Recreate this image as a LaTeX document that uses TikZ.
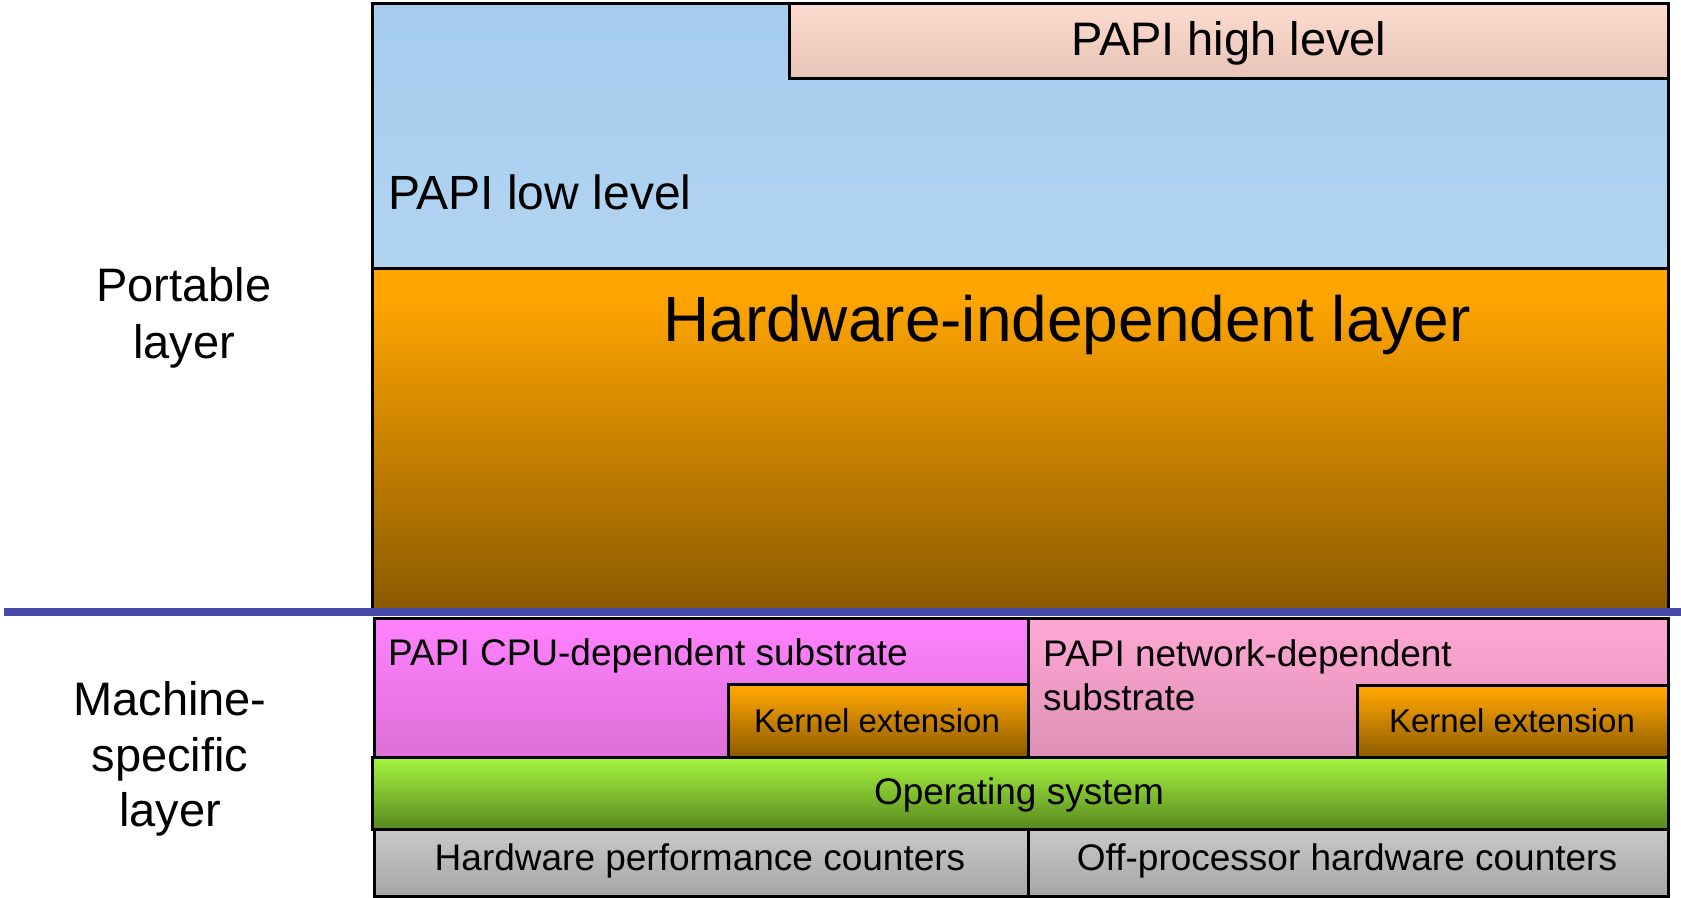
\documentclass[tikz,border=0pt]{standalone}
\usepackage{fontspec}
\setmainfont{Liberation Sans}
\definecolor{blueT}{RGB}{166,204,238}
\definecolor{blueB}{RGB}{177,212,241}
\definecolor{peachT}{RGB}{255,220,208}
\definecolor{peachB}{RGB}{230,195,182}
\definecolor{org}{RGB}{255,165,0}
\definecolor{brn}{RGB}{138,90,0}
\definecolor{magT}{RGB}{255,130,255}
\definecolor{magB}{RGB}{221,111,214}
\definecolor{pinkT}{RGB}{255,168,212}
\definecolor{pinkB}{RGB}{222,144,182}
\definecolor{grnT}{RGB}{166,245,64}
\definecolor{grnB}{RGB}{88,136,30}
\definecolor{grayT}{RGB}{200,200,200}
\definecolor{grayB}{RGB}{166,166,166}
\definecolor{sepline}{RGB}{72,72,168}
\pgfdeclareverticalshading{hwind}{100bp}{color(0bp)=(brn); color(25bp)=(brn); color(71bp)=(org); color(100bp)=(org)}
\pgfdeclareverticalshading{kern}{100bp}{color(0bp)=(brn); color(25bp)=(brn); color(72bp)=(org); color(100bp)=(org)}
\tikzset{
  layerbox/.style={draw=black, line width=2.5pt, rectangle, inner sep=0pt, anchor=north west},
  txt/.style={inner sep=0pt, font=\fontsize{37}{44}\selectfont},
  bigtxt/.style={inner sep=0pt, font=\fontsize{47}{56}\selectfont},
  hugetxt/.style={inner sep=0pt, font=\fontsize{64}{76}\selectfont},
  kerntxt/.style={inner sep=0pt, font=\fontsize{33}{40}\selectfont},
}
\begin{document}
\begin{tikzpicture}[x=1pt,y=-1pt]
\useasboundingbox (0,0) rectangle (1681,897);
% portable layer
\node[layerbox, top color=blueT, bottom color=blueB, minimum width=1296pt, minimum height=265pt] (low) at (371,2) {};
\node[layerbox, top color=peachT, bottom color=peachB, minimum width=879pt, minimum height=75pt] (high) at (788,2) {};
\node[bigtxt] (hightxt) at ([yshift=-3pt]high.center) {PAPI high level};
\node[font=\fontsize{48}{56}\selectfont, inner sep=0pt, anchor=base west] (lowtxt) at (388,209) {PAPI low level};
\node[layerbox, shade, shading=hwind, minimum width=1296pt, minimum height=342pt] (hw) at (371,267) {};
\node[hugetxt, anchor=base] (hwtxt) at (1067,341) {Hardware-independent layer};
% separator
\coordinate (sepL) at (4,612);
\coordinate (sepR) at (1681,612);
\draw[sepline, line width=8pt] (sepL) -- (sepR);
% machine specific
\node[layerbox, top color=magT, bottom color=magB, minimum width=654pt, minimum height=139pt] (cpu) at (373,617) {};
\node[layerbox, top color=pinkT, bottom color=pinkB, minimum width=640pt, minimum height=139pt] (net) at (1027,617) {};
\node[layerbox, shade, shading=kern, minimum width=300pt, minimum height=73pt] (k1) at (727,683) {};
\node[layerbox, shade, shading=kern, minimum width=311pt, minimum height=73pt] (k2) at (1356,684) {};
\node[txt, anchor=base west] (cputxt) at (388,665) {PAPI CPU-dependent substrate};
\node[txt, anchor=base west] (nettxt1) at (1043,666) {PAPI network-dependent};
\node[txt, anchor=base west] (nettxt2) at (1043,710) {substrate};
\node[kerntxt, anchor=base] (k1txt) at (877,732) {Kernel extension};
\node[kerntxt, anchor=base] (k2txt) at (1512,732) {Kernel extension};
\node[layerbox, top color=grnT, bottom color=grnB, minimum width=1296pt, minimum height=72pt] (os) at (371,756) {};
\node[txt, anchor=base] (ostxt) at (1019,804) {Operating system};
\node[layerbox, top color=grayT, bottom color=grayB, minimum width=654pt, minimum height=67pt] (hpc) at (373,828) {};
\node[layerbox, top color=grayT, bottom color=grayB, minimum width=640pt, minimum height=67pt] (opc) at (1027,828) {};
\node[txt, anchor=base] (hpctxt) at (700,870) {Hardware performance counters};
\node[txt, anchor=base] (opctxt) at (1347,870) {Off-processor hardware counters};
% side labels
\node[bigtxt, anchor=base] (port1) at (184,301) {Portable};
\node[bigtxt, anchor=base] (port2) at (184,358) {layer};
\node[bigtxt, anchor=base] (mach1) at (170,715) {Machine-};
\node[bigtxt, anchor=base] (mach2) at (170,771) {specific};
\node[bigtxt, anchor=base] (mach3) at (170,826) {layer};
\end{tikzpicture}
\end{document}
